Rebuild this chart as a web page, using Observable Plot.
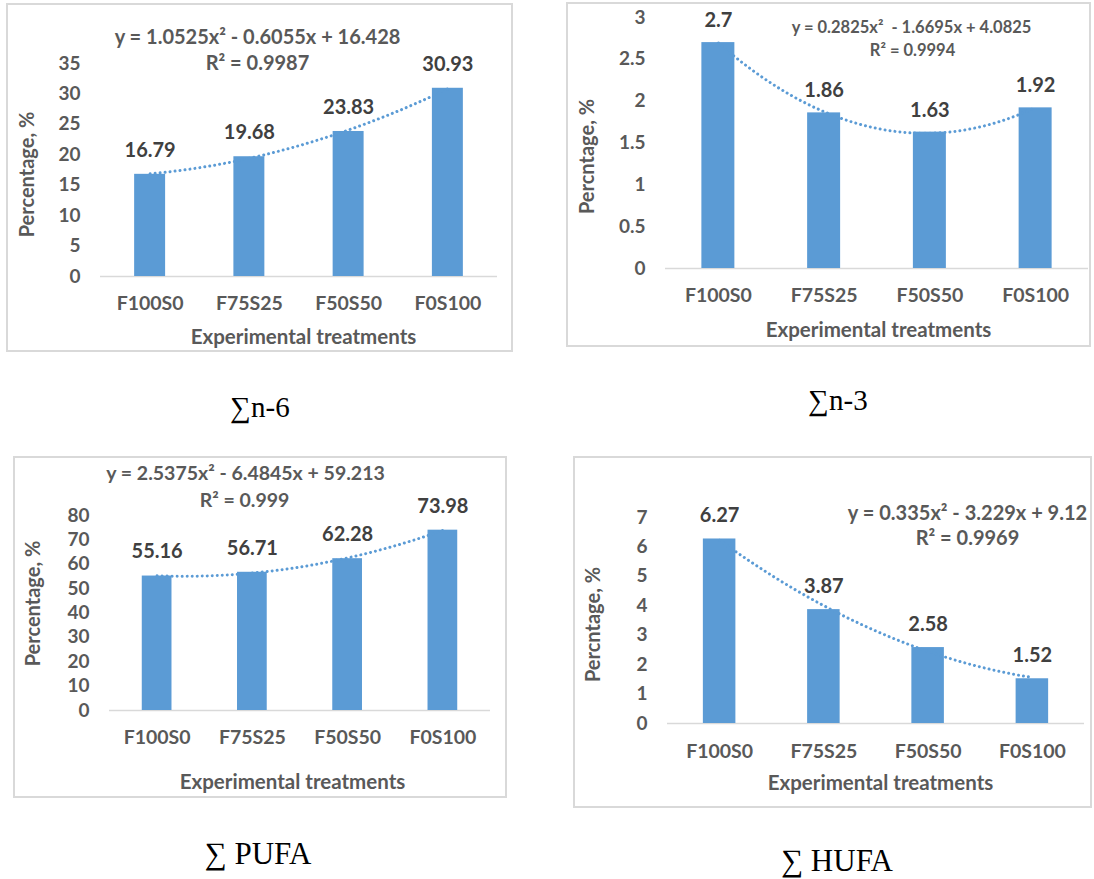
<!DOCTYPE html>
<html><head><meta charset="utf-8">
<script src="https://cdn.jsdelivr.net/npm/d3@7"></script>
<script src="https://cdn.jsdelivr.net/npm/@observablehq/plot@0.6"></script>
<style>
html,body{margin:0;padding:0;background:#fff}
body{width:1094px;height:879px;position:relative;overflow:hidden}
.chart{position:absolute}
.frame{position:absolute;box-sizing:border-box;border:2px solid #D9D9D9;pointer-events:none}
.cap{position:absolute;font-family:"Liberation Serif","Times New Roman",serif;line-height:1;color:#000;white-space:nowrap;transform:translate(-50%,-50%)}
</style></head><body>
<script>
// ---- data ----
const categories = ["F100S0", "F75S25", "F50S50", "F0S100"];
const n6Values   = [16.79, 19.68, 23.83, 30.93];
const n3Values   = [2.7, 1.86, 1.63, 1.92];
const pufaValues = [55.16, 56.71, 62.28, 73.98];
const hufaValues = [6.27, 3.87, 2.58, 1.52];
// polynomial trendline coefficients shown on the chart: [a, b, c] of y = a x^2 + b x + c
const n6Coef   = [1.0525, -0.6055, 16.428];
const n3Coef   = [0.2825, -1.6695, 4.0825];
const pufaCoef = [2.5375, -6.4845, 59.213];
const hufaCoef = [0.335, -3.229, 9.12];
const n6Ticks   = [0, 5, 10, 15, 20, 25, 30, 35];
const n3Ticks   = [0, 0.5, 1, 1.5, 2, 2.5, 3];
const pufaTicks = [0, 10, 20, 30, 40, 50, 60, 70, 80];
const hufaTicks = [0, 1, 2, 3, 4, 5, 6, 7];
const equations = ["y = 1.0525x² - 0.6055x + 16.428", "y = 0.2825x²  - 1.6695x + 4.0825", "y = 2.5375x² - 6.4845x + 59.213", "y = 0.335x² - 3.229x + 9.12"];
const r2Labels  = ["R² = 0.9987", "R² = 0.9994", "R² = 0.999", "R² = 0.9969"];
const yTitles   = ["Percentage, %", "Percntage, %", "Percentage, %", "Percntage, %"];
const xTitle    = "Experimental treatments";
const captions  = ["∑n-6", "∑n-3", "∑ PUFA", "∑ HUFA"];

// ---- layout (page pixels) ----
const layout = [
  {L:6, T:3, R:513, B:352, x0:100, x1:497, yBase:276, yTop:63, tickRight:80, catY:303, axT:[303,337], yT:[27,174], eqP:[257,37], r2P:[257,63], eqSize:20, gap:24, cap:[260,407], capSize:29},
  {L:566, T:2, R:1091, B:347, x0:665, x1:1088, yBase:268, yTop:17, tickRight:645, catY:295, axT:[878,330], yT:[587,156], eqP:[911,27], r2P:[912,50], eqSize:16.5, gap:22, cap:[838,400], capSize:29},
  {L:13, T:456, R:507, B:798, x0:109, x1:490, yBase:710, yTop:515, tickRight:89, catY:737, axT:[292,782], yT:[33,603], eqP:[245,473], r2P:[244,500], eqSize:19.5, gap:24, cap:[258,853], capSize:31},
  {L:573, T:456, R:1092, B:808, x0:667, x1:1084, yBase:723, yTop:517, tickRight:647, catY:751, axT:[880,783], yT:[593,624], eqP:[967,513], r2P:[967,538], eqSize:20, gap:23, cap:[837,860], capSize:31}
];
const series = [
  {values:n6Values, ticks:n6Ticks, coef:n6Coef},
  {values:n3Values, ticks:n3Ticks, coef:n3Coef},
  {values:pufaValues, ticks:pufaTicks, coef:pufaCoef},
  {values:hufaValues, ticks:hufaTicks, coef:hufaCoef}
];

const BLUE = "#5B9BD5", GREY = "#595959", DARK = "#404040", AXIS = "#D9D9D9";
const FONT = "Lato";
const halfBar = 0.156;

series.forEach((s, k) => {
  const g = layout[k];
  const W = g.R - g.L, H = g.B - g.T;
  const mL = g.x0 - g.L, mR = g.R - g.x1, mT = g.yTop - g.T, mB = g.B - g.yBase;
  const yMax = s.ticks[s.ticks.length - 1];
  const rows = s.values.map((v, i) => ({cat: categories[i], idx: i + 1, v}));
  // trendline sampled from the displayed polynomial
  const trend = d3.range(1, 4.0001, 0.05).map(t => ({t, y: s.coef[0]*t*t + s.coef[1]*t + s.coef[2]}));
  const ann = (txt, p, extra = {}) => Plot.text([txt], {
    frameAnchor: "top-left", dx: p[0] - g.x0, dy: p[1] - g.yTop,
    textAnchor: "middle", lineAnchor: "middle", fill: GREY, fontWeight: "bold", fontSize: 20, ...extra
  });
  const svg = Plot.plot({
    width: W, height: H,
    marginLeft: mL, marginRight: mR, marginTop: mT, marginBottom: mB,
    style: {fontFamily: FONT, background: "transparent", overflow: "visible"},
    x: {type: "linear", domain: [0.5, 4.5], axis: null},
    y: {domain: [0, yMax], axis: null},
    marks: [
      Plot.ruleY([0], {stroke: AXIS, strokeWidth: 1.5}),
      Plot.rectY(rows, {x1: d => d.idx - halfBar, x2: d => d.idx + halfBar, y1: 0, y2: "v", fill: BLUE}),
      Plot.line(trend, {x: "t", y: "y", stroke: BLUE, strokeWidth: 3, strokeDasharray: "0.01 5", strokeLinecap: "round"}),
      Plot.text(rows, {x: "idx", y: "v", text: d => String(d.v), dy: -g.gap, fill: DARK, fontWeight: "bold", fontSize: 20}),
      Plot.axisY(s.ticks, {tickSize: 0, tickPadding: g.x0 - g.tickRight, tickFormat: d => String(d), fill: GREY, fontWeight: "bold", fontSize: 19, label: null}),
      Plot.axisX([1, 2, 3, 4], {tickSize: 0, tickPadding: g.catY - g.yBase - 7, tickFormat: i => categories[i - 1], fill: GREY, fontWeight: "bold", fontSize: 19.5, label: null}),
      ann(equations[k], g.eqP, {fontSize: g.eqSize}),
      ann(r2Labels[k], g.r2P, {fontSize: g.eqSize}),
      ann(xTitle, g.axT, {fontSize: 20.5}),
      ann(yTitles[k], g.yT, {rotate: -90, fontSize: 20})
    ]
  });
  svg.classList.add("chart");
  svg.style.left = g.L + "px";
  svg.style.top = g.T + "px";
  svg.style.position = "absolute";
  document.body.appendChild(svg);
  const fr = document.createElement("div");
  fr.className = "frame";
  Object.assign(fr.style, {left: g.L + "px", top: g.T + "px", width: W + "px", height: H + "px"});
  document.body.appendChild(fr);
  const c = document.createElement("div");
  c.className = "cap";
  c.textContent = captions[k];
  c.style.left = g.cap[0] + "px";
  c.style.top = g.cap[1] + "px";
  c.style.fontSize = g.capSize + "px";
  document.body.appendChild(c);
});
</script>
</body></html>
